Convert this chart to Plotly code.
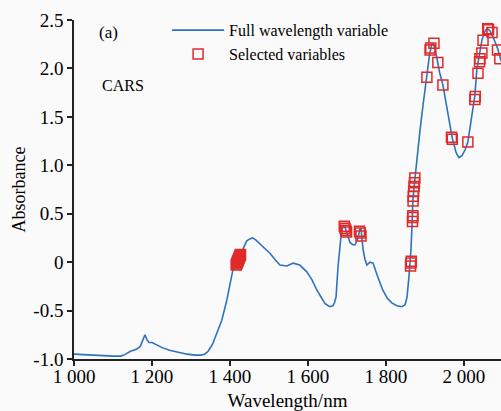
import plotly.graph_objects as go

# Full spectrum (wavelength nm, absorbance)
wavelength = [1000, 1020, 1050, 1080, 1100, 1120, 1130, 1145, 1160, 1170, 1177, 1182, 1187, 1192,
              1200, 1210, 1225, 1245, 1265, 1290, 1310, 1325, 1335, 1344, 1355, 1366, 1379, 1392,
              1400, 1408, 1413, 1420, 1428, 1435, 1443, 1451, 1458, 1466, 1477, 1490, 1503, 1515,
              1528, 1546, 1562, 1579, 1597, 1610, 1623, 1635, 1644, 1656, 1664, 1668, 1672, 1677,
              1681, 1685, 1690, 1695, 1700, 1708, 1715, 1721, 1728, 1733, 1736, 1741, 1746, 1751,
              1759, 1767, 1777, 1792, 1803, 1815, 1828, 1841, 1849, 1854, 1859, 1864, 1867, 1869,
              1874, 1880, 1887, 1895, 1905, 1912, 1918, 1923, 1930, 1938, 1946, 1958, 1970, 1980,
              1987, 1995, 2003, 2010, 2016, 2021, 2028, 2033, 2040, 2046, 2052, 2059, 2066, 2072,
              2080, 2086, 2093, 2098]
absorbance = [-0.95, -0.955, -0.96, -0.97, -0.97, -0.97, -0.955, -0.92, -0.90, -0.87, -0.81, -0.75,
              -0.80, -0.83, -0.83, -0.85, -0.88, -0.91, -0.93, -0.95, -0.96, -0.96, -0.95, -0.92,
              -0.85, -0.73, -0.60, -0.39, -0.22, -0.07, -0.03, 0.02, 0.08, 0.15, 0.22, 0.24, 0.25,
              0.23, 0.19, 0.14, 0.09, 0.03, -0.03, -0.04, -0.01, -0.03, -0.10, -0.18, -0.29, -0.37,
              -0.43, -0.46, -0.45, -0.42, -0.36, -0.05, 0.15, 0.28, 0.38, 0.36, 0.30, 0.20, 0.18,
              0.18, 0.25, 0.34, 0.35, 0.14, 0.03, -0.03, 0.0, -0.01, -0.13, -0.29, -0.37, -0.42,
              -0.45, -0.46, -0.44, -0.36, -0.15, 0.12, 0.40, 0.64, 0.85, 1.10, 1.35, 1.62, 1.92,
              2.15, 2.26, 2.24, 2.12, 1.95, 1.83, 1.55, 1.28, 1.13, 1.08, 1.10, 1.16, 1.24, 1.40,
              1.57, 1.72, 1.99, 2.16, 2.29, 2.37, 2.41, 2.39, 2.35, 2.27, 2.21, 2.11, 2.05]

# CARS-selected variables
sel_wavelength = [1416, 1417, 1418, 1419, 1420, 1421, 1422, 1423, 1424, 1425, 1426, 1427,
                  1693, 1695, 1697, 1699, 1732, 1734, 1736,
                  1863, 1864, 1865, 1868, 1868.5, 1869, 1869.5, 1870, 1871, 1872, 1873, 1874,
                  1905, 1913, 1915, 1923, 1933, 1946, 1968, 1970, 2010, 2028, 2029, 2036,
                  2040, 2041, 2046, 2049, 2061, 2063, 2072, 2086, 2092]
sel_absorbance = [-0.03, -0.02, -0.01, 0.0, 0.01, 0.02, 0.03, 0.04, 0.05, 0.06, 0.07, 0.08,
                  0.37, 0.35, 0.33, 0.31, 0.32, 0.30, 0.27,
                  -0.04, -0.01, 0.01, 0.42, 0.46, 0.48, 0.63, 0.68, 0.73, 0.78, 0.82, 0.87,
                  1.91, 2.19, 2.21, 2.26, 2.06, 1.83, 1.29, 1.27, 1.24, 1.68, 1.71, 1.95,
                  2.07, 2.10, 2.16, 2.29, 2.41, 2.40, 2.37, 2.19, 2.10]

x_tickvals = [1000, 1200, 1400, 1600, 1800, 2000]
x_ticktext = ["1 000", "1 200", "1 400", "1 600", "1 800", "2 000"]
y_tickvals = [-1.0, -0.5, 0, 0.5, 1.0, 1.5, 2.0, 2.5]
y_ticktext = ["-1.0", "-0.5", "0", "0.5", "1.0", "1.5", "2.0", "2.5"]

FONT = "Liberation Serif"
BG = "#fafafa"

fig = go.Figure()
fig.add_trace(go.Scatter(
    x=wavelength, y=absorbance, mode="lines", name="Full wavelength variable",
    line=dict(color="#2e72bf", width=1.6), cliponaxis=True))
fig.add_trace(go.Scatter(
    x=sel_wavelength, y=sel_absorbance, mode="markers", name="Selected variables",
    marker=dict(symbol="square-open", size=10, color="#e02a2a", line=dict(width=1.5)),
    cliponaxis=False))

fig.update_layout(
    width=501, height=411,
    margin=dict(l=74, r=0, t=20, b=52),
    paper_bgcolor=BG, plot_bgcolor=BG,
    font=dict(family=FONT, size=19, color="black"),
    showlegend=True,
    legend=dict(x=0.218, y=1.02, xanchor="left", yanchor="top",
                bgcolor="rgba(0,0,0,0)", font=dict(size=16, family=FONT),
                itemwidth=52, tracegroupgap=0),
    xaxis=dict(range=[1000, 2095], tickvals=x_tickvals, ticktext=x_ticktext,
               showgrid=False, zeroline=False, showline=True, linecolor="#222",
               linewidth=1.5, ticks="outside", ticklen=5, tickwidth=1.5, tickcolor="#222",
               tickfont=dict(size=19, family=FONT), ticklabelstandoff=-6,
               title=dict(text="Wavelength/nm", font=dict(size=19, family=FONT), standoff=12)),
    yaxis=dict(range=[-1.0, 2.5], tickvals=y_tickvals, ticktext=y_ticktext,
               showgrid=False, zeroline=False, showline=True, linecolor="#222",
               linewidth=1.5, ticks="outside", ticklen=5, tickwidth=1.5, tickcolor="#222",
               tickfont=dict(size=19, family=FONT),
               title=dict(text="Absorbance", font=dict(size=18, family=FONT), standoff=3)),
    annotations=[
        dict(text="(a)", xref="paper", yref="paper", x=0.053, y=0.962,
             xanchor="left", yanchor="middle", showarrow=False, font=dict(size=17, family=FONT)),
        dict(text="CARS", xref="paper", yref="paper", x=0.061, y=0.808,
             xanchor="left", yanchor="middle", showarrow=False, font=dict(size=16, family=FONT)),
    ],
)

fig.write_html("out.html")
